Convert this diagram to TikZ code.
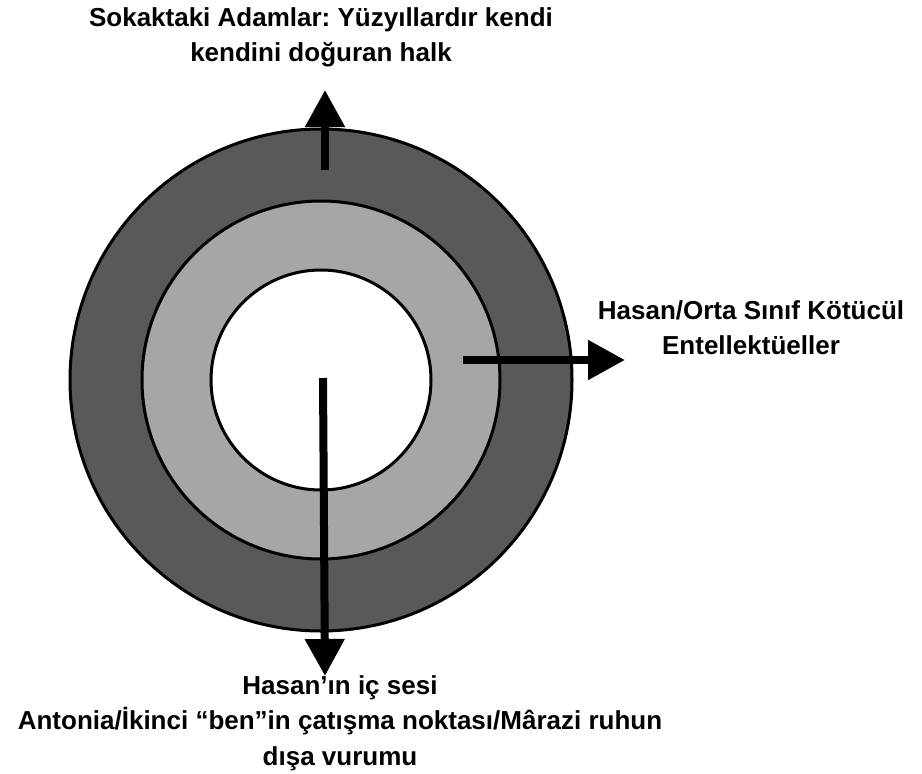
\documentclass[tikz,border=0pt]{standalone}
\usepackage{fontspec}
\setmainfont{Liberation Sans}
\usetikzlibrary{arrows.meta}
\definecolor{ringdark}{RGB}{89,89,89}
\definecolor{ringlight}{RGB}{166,166,166}
\frenchspacing
\begin{document}
\begin{tikzpicture}[x=1pt,y=-1pt,
  ring/.style={draw=black,line width=3pt},
  pointer/.style={line width=8pt,-{Triangle[length=37pt,width=38pt]}},
  caption/.style={font=\bfseries\fontsize{26}{35.5}\selectfont,align=center,inner sep=0pt,anchor=north}]
\useasboundingbox (0,0) rectangle (922,774);
\fill[white] (0,0) rectangle (922,774);
\coordinate (c) at (321,380);
% three concentric rings
\draw[ring,fill=ringdark]  (c) circle[radius=251];
\draw[ring,fill=ringlight] (c) circle[radius=179];
\draw[ring,fill=white]     (c) circle[radius=110];
% arrow end points
\coordinate (upS) at (325,170);
\coordinate (upE) at (325,90);
\coordinate (rtS) at (463,360);
\coordinate (rtE) at (625,360);
\coordinate (dnS) at (323,378);
\coordinate (dnE) at (325,676);
\draw[pointer] (upS) -- (upE);
\draw[pointer] (rtS) -- (rtE);
\draw[pointer] (dnS) -- (dnE);
% labels
\node[caption] (top) at (321,7) {Sokaktaki Adamlar: Yüzyıllardır kendi\\kendini doğuran halk};
\node[caption] (right) at (751,300) {Hasan/Orta Sınıf Kötücül\\Entellektüeller};
\node[caption] (bottom) at (340,675) {Hasan’ın iç sesi\\Antonia/İkinci “ben”in çatışma noktası/Mârazi ruhun\\dışa vurumu};
\end{tikzpicture}
\end{document}
